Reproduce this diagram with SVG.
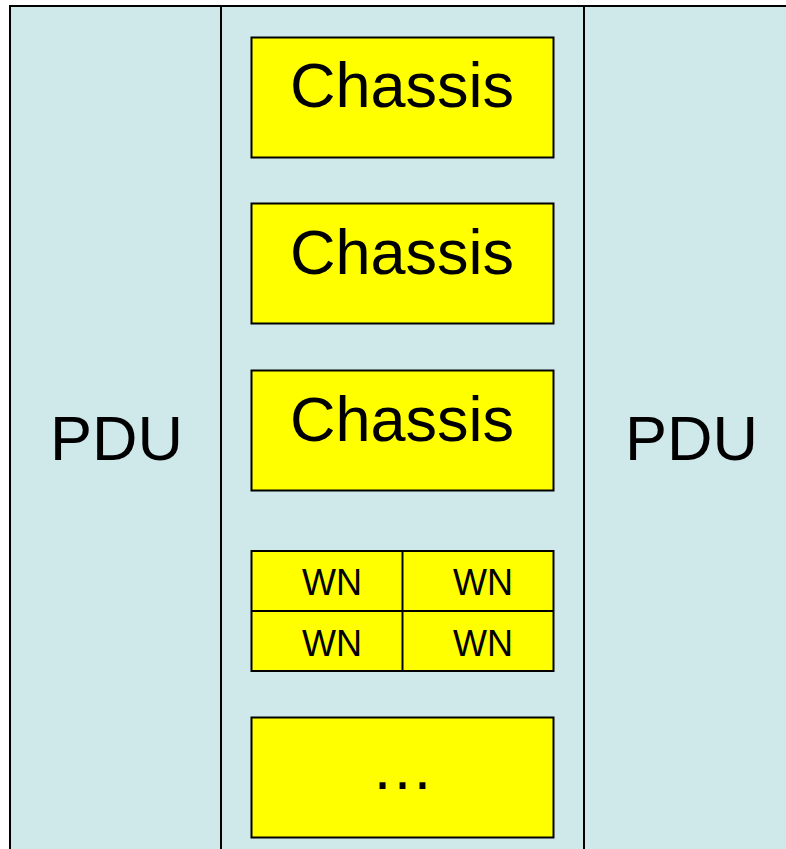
<svg xmlns="http://www.w3.org/2000/svg" width="786" height="849" viewBox="0 0 786 849">
<style>
.panel{fill:#CFE8EA;stroke:#000;stroke-width:2}
.box{fill:#FFFF00;stroke:#000;stroke-width:2}
.big{font-family:"Liberation Sans",Arial,sans-serif;font-size:63px;fill:#000;text-anchor:middle}
.small{font-family:"Liberation Sans",Arial,sans-serif;font-size:36px;fill:#000;text-anchor:middle}
.grid{stroke:#000;stroke-width:2;fill:none}
</style>
<g id="pdu-left">
<rect class="panel" x="10" y="6" width="211" height="860"/>
<text class="big" x="116.5" y="460">PDU</text>
</g>
<g id="rack">
<rect class="panel" x="221" y="6" width="363" height="860"/>
</g>
<g id="pdu-right">
<rect class="panel" x="584" y="6" width="220" height="860"/>
<text class="big" x="691.5" y="460">PDU</text>
</g>
<g id="chassis1">
<rect class="box" x="251.5" y="37.5" width="302" height="120"/>
<text class="big" x="402" y="107">Chassis</text>
</g>
<g id="chassis2">
<rect class="box" x="251.5" y="203.5" width="302" height="120"/>
<text class="big" x="402" y="274">Chassis</text>
</g>
<g id="chassis3">
<rect class="box" x="251.5" y="370.5" width="302" height="120"/>
<text class="big" x="402" y="441">Chassis</text>
</g>
<g id="wn-grid">
<rect class="box" x="251.5" y="551" width="302" height="120"/>
<line class="grid" x1="402.5" y1="551" x2="402.5" y2="671"/>
<line class="grid" x1="251.5" y1="611" x2="553.5" y2="611"/>
<text class="small" x="332" y="595">WN</text>
<text class="small" x="483" y="595">WN</text>
<text class="small" x="332" y="656">WN</text>
<text class="small" x="483" y="656">WN</text>
</g>
<g id="more">
<rect class="box" x="251.5" y="717.5" width="302" height="120"/>
<text class="big" x="402.5" y="789">…</text>
</g>
<g id="connectors"/>
</svg>
